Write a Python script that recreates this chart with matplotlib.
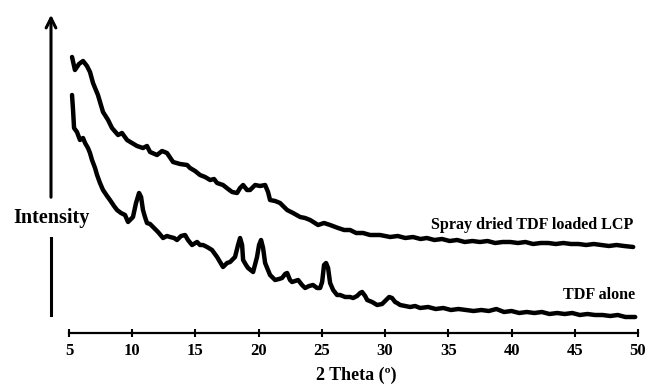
import matplotlib
matplotlib.use('Agg')
import matplotlib.pyplot as plt
import numpy as np

# 2 theta (deg) / intensity (a.u.)
spray_theta = [5.24, 5.47, 5.79, 6.11, 6.42, 6.66, 6.90, 7.29, 7.69, 8.09, 8.40, 8.88, 9.19, 9.59,
               9.98, 10.38, 10.85, 11.17, 11.41, 11.96, 12.36, 12.75, 13.23, 13.78, 14.34, 14.57,
               14.97, 15.36, 15.76, 16.16, 16.47, 16.71, 17.18, 17.58, 17.90, 18.29, 18.53, 18.77,
               19.08, 19.32, 19.72, 20.11, 20.51, 20.74, 20.90, 21.30, 21.69, 22.25, 22.72, 23.28,
               23.67, 24.07, 24.70, 25.17, 25.65, 26.28, 26.76, 27.23, 27.71, 28.26, 28.81, 29.60,
               30.40, 31.00, 31.60, 32.20, 32.80, 33.30, 33.90, 34.50, 35.10, 35.70, 36.30, 36.90,
               37.50, 38.10, 38.70, 39.30, 39.90, 40.50, 41.10, 41.70, 42.30, 42.90, 43.50, 44.10,
               44.70, 45.30, 45.90, 46.50, 47.10, 47.70, 48.30, 48.90, 49.62]
spray_int = [276, 263, 269, 272, 267, 261, 250, 238, 221, 213, 205, 198, 200, 193,
             190, 187, 185, 187, 181, 178, 182, 180, 171, 169, 168, 165,
             162, 158, 156, 153, 154, 150, 148, 144, 141, 140, 145, 148,
             143, 143, 148, 147, 148, 141, 133, 132, 130, 123, 120, 116,
             115, 113, 108, 110, 108, 105, 103, 103, 100, 100, 98, 98,
             96, 97, 95, 96, 94, 95, 93, 94, 92, 93, 91, 92,
             91, 92, 90, 91, 91, 90, 91, 89, 90, 90, 89, 90,
             89, 89, 88, 89, 88, 87, 88, 87, 86]

tdf_theta = [5.24, 5.32, 5.40, 5.63, 5.87, 6.11, 6.27, 6.50, 6.66, 6.82, 7.06, 7.22, 7.45, 7.69,
             8.01, 8.24, 8.56, 8.80, 9.11, 9.43, 9.67, 9.90, 10.06, 10.30, 10.54, 10.70, 10.85,
             11.01, 11.17, 11.41, 11.65, 12.04, 12.44, 12.75, 12.99, 13.31, 13.54, 13.86, 14.18,
             14.41, 14.73, 15.13, 15.36, 15.60, 15.92, 16.31, 16.71, 16.95, 17.18, 17.50, 17.74,
             18.13, 18.37, 18.53, 18.69, 18.77, 19.00, 19.16, 19.56, 19.87, 20.03, 20.19, 20.35,
             20.51, 20.74, 20.90, 21.30, 21.61, 21.85, 22.09, 22.25, 22.48, 22.64, 22.88, 23.12,
             23.43, 23.67, 23.99, 24.30, 24.62, 24.86, 25.02, 25.17, 25.33, 25.49, 25.65, 25.89,
             26.20, 26.44, 26.84, 27.23, 27.47, 27.78, 28.02, 28.18, 28.42, 28.58, 28.97, 29.37,
             29.76, 30.08, 30.32, 30.55, 30.79, 30.95, 31.19, 31.58, 31.98, 32.37, 32.77, 33.40,
             34.00, 34.60, 35.20, 35.80, 36.40, 37.00, 37.60, 38.20, 38.80, 39.40, 40.00, 40.60,
             41.20, 41.80, 42.40, 43.00, 43.60, 44.20, 44.80, 45.40, 46.00, 46.60, 47.20, 47.80,
             48.40, 49.00, 49.78]
tdf_int = [238, 223, 205, 201, 193, 195, 190, 185, 180, 173, 165, 158, 150, 143,
           137, 133, 127, 123, 120, 118, 111, 114, 116, 130, 140, 136, 123,
           116, 110, 109, 106, 101, 95, 97, 96, 95, 93, 97, 98,
           93, 88, 91, 88, 88, 86, 83, 76, 71, 66, 70, 71,
           76, 88, 95, 88, 73, 68, 65, 61, 76, 88, 93, 85,
           70, 63, 58, 53, 54, 55, 59, 60, 53, 51, 52, 53,
           48, 45, 47, 48, 45, 45, 51, 68, 70, 65, 50, 43,
           38, 38, 36, 36, 35, 37, 40, 41, 37, 33, 31, 28,
           29, 33, 36, 35, 31, 30, 28, 27, 26, 27, 25, 26,
           24, 25, 23, 24, 23, 22, 23, 22, 24, 21, 22, 20,
           21, 20, 21, 19, 20, 19, 20, 18, 19, 18, 18, 17,
           18, 16, 16]

series_labels = ['Spray dried TDF loaded LCP', 'TDF alone']
xticks = [5, 10, 15, 20, 25, 30, 35, 40, 45, 50]

serif = 'Liberation Serif'
W, H = 649, 384
fig = plt.figure(figsize=(W / 100, H / 100), dpi=100)
ax = fig.add_axes([69 / W, (H - 333) / H, (638 - 69) / W, 333 / H])

for th, it in [(spray_theta, spray_int), (tdf_theta, tdf_int)]:
    ax.plot(th, it, color='black', lw=3.2, solid_joinstyle='round', solid_capstyle='round')

ax.set_xlim(5, 50)
ax.set_ylim(0, 333)
for s in ['left', 'top', 'right']:
    ax.spines[s].set_visible(False)
ax.spines['bottom'].set_linewidth(1.6)
ax.set_yticks([])
ax.set_xticks(xticks)
ax.tick_params(axis='x', direction='inout', length=6, width=1.5, pad=4)
for lab in ax.get_xticklabels():
    lab.set_fontfamily(serif)
    lab.set_fontweight('bold')
    lab.set_fontsize(12)

ax.text(49.65, 108, series_labels[0], ha='right', va='center', family=serif,
        fontweight='bold', fontsize=11.6)
ax.text(49.8, 38, series_labels[1], ha='right', va='center', family=serif,
        fontweight='bold', fontsize=11.6)

fig.text(356 / W, (H - 375) / H, '2 Theta (º)', ha='center', va='center', family=serif,
         fontweight='bold', fontsize=13)

# intensity arrow, broken around the label
ax_x = 51 / W
fig.add_artist(plt.Line2D([ax_x, ax_x], [(H - 315) / H, (H - 238) / H], color='black', lw=2.2,
                          transform=fig.transFigure))
ax.annotate('', xy=(ax_x, (H - 12) / H), xytext=(ax_x, (H - 200) / H),
            xycoords='figure fraction', textcoords='figure fraction',
            arrowprops=dict(arrowstyle='->, head_length=0.7, head_width=0.35', lw=2.2, color='black'))
fig.text(ax_x, (H - 218) / H, 'Intensity', ha='center', va='center', family=serif,
         fontweight='bold', fontsize=14.5)

fig.savefig('out.png', dpi=100)
